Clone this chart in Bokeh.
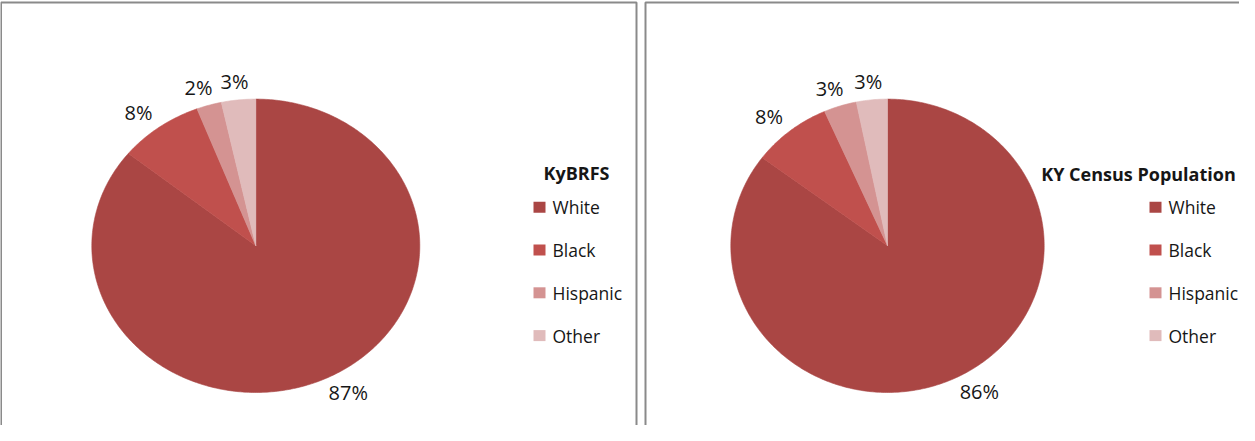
import numpy as np
from bokeh.plotting import figure
from bokeh.models import Range1d, ColumnDataSource
from bokeh.core.properties import value
from bokeh.embed import file_html
from bokeh.resources import INLINE

# ---- data ----
categories = ["White", "Black", "Hispanic", "Other"]
kybrfs_pct = [86.6, 8.4, 2.49, 3.4]
census_pct = [85.6, 8.2, 3.4, 3.2]
legend_titles = ["KyBRFS", "KY Census Population"]
slice_colors = ["#AA4644", "#C0504D", "#D49392", "#E0BBBB"]

FONT = "Open Sans"
TEXT_COLOR = "#161616"
W, H = 1239, 425

p = figure(width=W, height=H, x_range=Range1d(0, W), y_range=Range1d(H, 0),
           output_backend="svg", toolbar_location=None, min_border=0)
p.axis.visible = False
p.grid.visible = False
p.outline_line_color = None
p.background_fill_color = "white"
p.border_fill_color = "white"

# panel frames (extend beyond the visible page at the bottom / right)
p.quad(left=[0.5, 645], right=[636, 1262], top=[2, 2], bottom=[445, 445],
       fill_color=None, line_color="#8a8a8a", line_width=2)


def draw_pie(vals, cx, cy, rx, ry, title, legend_x, title_x, title_y):
    v = np.asarray(vals, dtype=float)
    frac = v / v.sum()
    ends = np.cumsum(frac) * 2 * np.pi
    starts = ends - frac * 2 * np.pi
    xs, ys = [], []
    for a0, a1 in zip(starts, ends):
        n = max(int((a1 - a0) * 80), 6)
        t = np.linspace(a0, a1, n)
        xs.append(np.concatenate([[cx], cx + rx * np.sin(t), [cx]]))
        ys.append(np.concatenate([[cy], cy - ry * np.cos(t), [cy]]))
    src = ColumnDataSource(dict(xs=xs, ys=ys, color=slice_colors, cat=categories))
    p.patches("xs", "ys", source=src, fill_color="color", line_color="color",
              line_width=0.6)

    # data labels, outside end at mid angle
    lx, ly, lt = [], [], []
    for a0, a1, val in zip(starts, ends, vals):
        m = 0.5 * (a0 + a1)
        px, py = cx + rx * np.sin(m), cy - ry * np.cos(m)
        ux, uy = rx * np.sin(m), -ry * np.cos(m)
        nrm = np.hypot(ux, uy)
        ux, uy = ux / nrm, uy / nrm
        label = f"{int(round(val))}%"
        w = 13.5 * len(label)
        lx.append(px + ux * (6 + w))
        ly.append(py + uy * (6 + 8 + 0.1 * w) - 1.5)
        lt.append(label)
    p.text(x=lx, y=ly, text=lt, text_font=value(FONT), text_font_size="20px",
           text_color=TEXT_COLOR, text_align="center", text_baseline="middle")

    # legend
    p.text(x=[title_x], y=[title_y], text=[title], text_font=value(FONT),
           text_font_size="18px", text_font_style="bold", text_color=TEXT_COLOR,
           text_align="center", text_baseline="middle")
    item_y = [206.7 + 42.8 * i for i in range(len(categories))]
    p.rect(x=[legend_x + 6] * len(categories), y=item_y, width=12, height=11,
           fill_color=slice_colors, line_color=None)
    p.text(x=[legend_x + 19] * len(categories), y=item_y,
           text=categories, text_font=value(FONT), text_font_size="17.5px",
           text_color=TEXT_COLOR, text_align="left", text_baseline="middle")


draw_pie(kybrfs_pct, 255.3, 245.3, 164, 146.7, legend_titles[0], 533, 576, 172)
draw_pie(census_pct, 887, 245.3, 156.7, 146.7, legend_titles[1], 1149, 1138, 173)

open("out.html", "w").write(file_html(p, INLINE))
